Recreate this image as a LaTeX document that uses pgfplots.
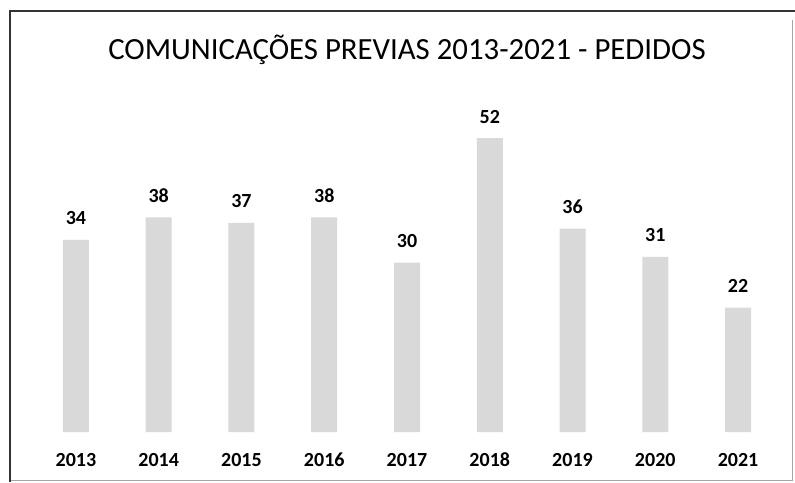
\documentclass[border=0pt]{standalone}
\usepackage{pgfplots}
\pgfplotsset{compat=1.18}
\usepackage{fontspec}
\setmainfont{Carlito}
\definecolor{bargray}{RGB}{217,217,217}
\begin{document}
\begin{tikzpicture}
  \useasboundingbox (0,0) rectangle (397.5pt,241pt);
  % frame around the chart
  \draw[line width=0.5pt, black!35] (5pt,1pt) -- (396pt,1pt) -- (396pt,231pt);
  \draw[line width=1.2pt, black!80] (5pt,0pt) -- (5pt,235.5pt) -- (400pt,235.5pt);
  \node[anchor=base, font=\fontsize{15.4}{18}\selectfont] at (203.5pt,211pt)
    {COMUNICAÇÕES PREVIAS 2013-2021 - PEDIDOS};
  \begin{axis}[
      at={(17.3pt,25pt)}, anchor=south west,
      scale only axis,
      width=372.4pt, height=169.5pt,
      xmin=2012.5, xmax=2021.5,
      ymin=0, ymax=60,
      xtick=data, ytick=\empty,
      axis line style={draw=none},
      tick style={draw=none},
      /pgf/number format/.cd, 1000 sep={}, assume math mode=true,
      /pgfplots/.cd,
      xticklabel style={font=\fontsize{10}{12}\selectfont\bfseries, yshift=-7pt},
      nodes near coords,
      every node near coord/.append style={font=\fontsize{10}{12}\selectfont\bfseries, yshift=4pt},
    ]
    \addplot[ybar, bar width=13pt, fill=bargray, draw=none] coordinates {
      (2013,34) (2014,38) (2015,37) (2016,38) (2017,30)
      (2018,52) (2019,36) (2020,31) (2021,22)
    };
  \end{axis}
\end{tikzpicture}
\end{document}
